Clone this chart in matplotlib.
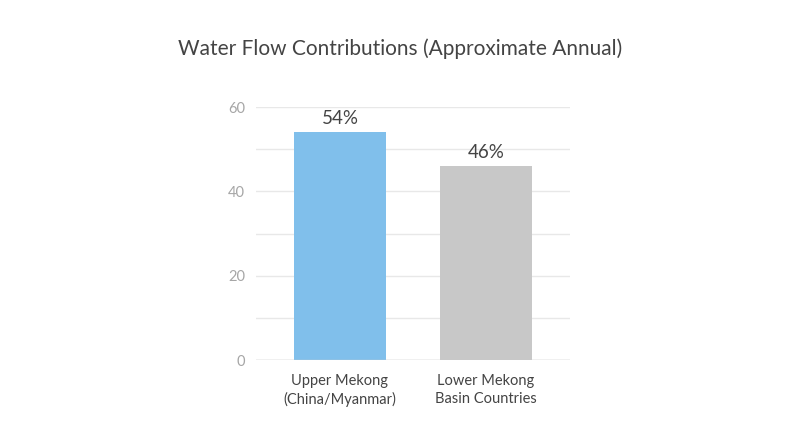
import matplotlib
matplotlib.use("Agg")
import matplotlib.pyplot as plt

categories = ["Upper Mekong\n(China/Myanmar)", "Lower Mekong\nBasin Countries"]
values     = [54, 46]
labels     = ["54%", "46%"]
colors     = ["#80bfeb", "#c8c8c8"]
yticks     = [0, 20, 40, 60]

plt.rcParams["font.family"] = ["Lato", "DejaVu Sans"]

fig = plt.figure(figsize=(8, 4.47), dpi=100)
ax = fig.add_axes([0.32, 0.1946, 0.3925, 0.566])

x = list(range(len(categories)))
ax.bar(x, values, width=0.63, color=colors, zorder=2)

for xi, v, lab in zip(x, values, labels):
    ax.text(xi, v + 1.3, lab, ha="center", va="bottom", fontsize=13.5,
            color="#444444", zorder=3)

ax.set_xlim(-0.575, 1.575)
ax.set_ylim(0, 60)
ax.set_yticks(yticks)
ax.set_yticks(range(0, 61, 10), minor=True)
ax.grid(axis="y", which="both", color="#e8e8e8", linewidth=1, zorder=0)
ax.axhline(0, color="#cccccc", linewidth=1, zorder=3)

ax.set_xticks(x)
ax.set_xticklabels(categories, fontsize=10.5, color="#444444", linespacing=1.35)
ax.tick_params(axis="x", length=0, pad=10)
ax.tick_params(axis="y", which="both", length=0, pad=8, labelsize=10.5,
               labelcolor="#a6a6a6")
for s in ax.spines.values():
    s.set_visible(False)

fig.text(0.5, 0.89, "Water Flow Contributions (Approximate Annual)",
         ha="center", va="center", fontsize=15, color="#444444")

fig.savefig("out.png", dpi=100)
